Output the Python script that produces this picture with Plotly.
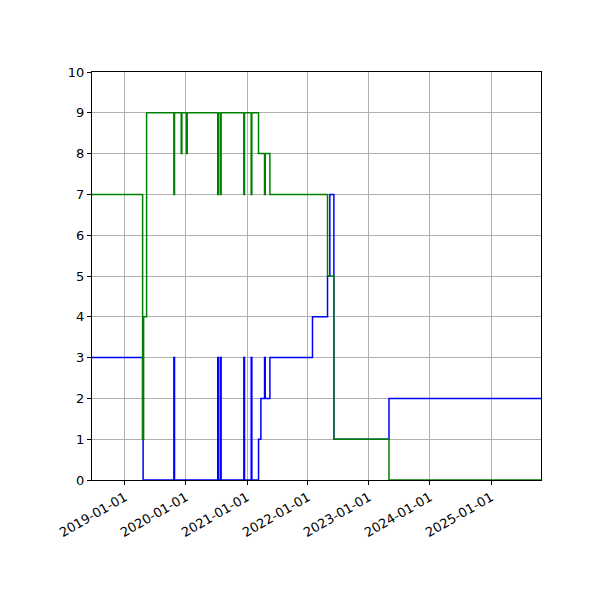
import plotly.graph_objects as go

blue_dates = ["2018-06-18","2019-04-17","2019-04-20","2019-10-21","2019-10-25","2020-07-10","2020-07-14",
              "2020-07-26","2020-07-30","2020-12-13","2020-12-17","2021-01-26","2021-01-30","2021-03-11",
              "2021-03-25","2021-04-16","2021-04-20","2021-05-18","2022-01-28","2022-04-28","2022-05-12",
              "2022-06-05","2023-05-01","2025-10-27"]
blue_vals = [3,1,0,3,0,3,0,3,0,3,0,3,0,1,2,3,2,3,4,5,7,1,2,2]

green_dates = ["2018-06-18","2019-04-17","2019-04-23","2019-05-11","2019-10-21","2019-10-25","2019-12-04",
               "2019-12-08","2020-01-05","2020-01-09","2020-07-10","2020-07-14","2020-07-26","2020-07-30",
               "2020-12-13","2020-12-17","2021-01-26","2021-01-30","2021-03-11","2021-04-16","2021-04-20",
               "2021-05-18","2022-04-28","2022-06-05","2023-05-01","2025-10-27"]
green_vals = [7,1,4,9,7,9,8,9,8,9,7,9,7,9,7,9,7,9,8,7,8,7,5,1,0,0]

tickvals = ["2019-01-01","2020-01-01","2021-01-01","2022-01-01","2023-01-01","2024-01-01","2025-01-01"]

fig = go.Figure()
fig.add_trace(go.Scatter(x=blue_dates, y=blue_vals, mode="lines", line=dict(color="blue", width=1.5, shape="hv")))
fig.add_trace(go.Scatter(x=green_dates, y=green_vals, mode="lines", line=dict(color="green", width=1.5, shape="hv")))

axis_common = dict(showline=True, linecolor="black", linewidth=1, mirror=True, showgrid=True,
                   gridcolor="#b0b0b0", gridwidth=1, ticks="outside", ticklen=4, tickcolor="black",
                   zeroline=False, automargin=False,
                   tickfont=dict(family="DejaVu Sans", size=13, color="black"))
fig.update_xaxes(range=["2018-06-18","2025-10-27"], tickvals=tickvals, ticktext=tickvals,
                 tickangle=-30, **axis_common)
fig.update_yaxes(range=[0,10], dtick=1, **axis_common)
fig.update_layout(width=600, height=600, showlegend=False, plot_bgcolor="white", paper_bgcolor="white",
                  margin=dict(l=84, r=67, t=64, b=128))
fig.write_html("out.html")
